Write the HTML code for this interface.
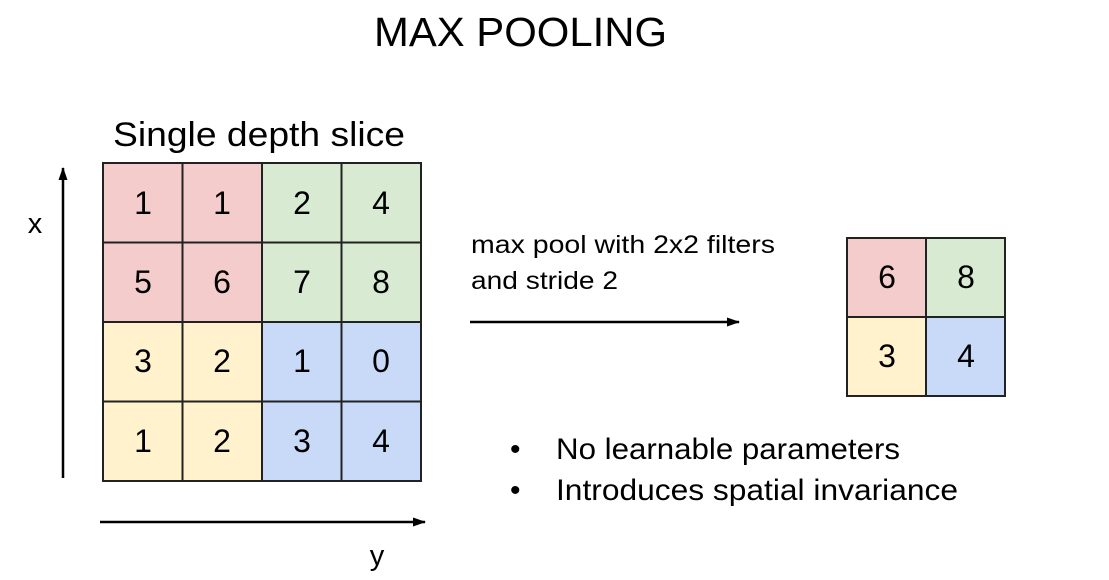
<!DOCTYPE html>
<html><head><meta charset="utf-8"><style>
html,body{margin:0;padding:0;background:#fff;width:1109px;height:580px;overflow:hidden}
svg text{font-family:"Liberation Sans","DejaVu Sans",sans-serif;fill:#000}
</style></head><body>
<svg width="1109" height="580" xmlns="http://www.w3.org/2000/svg">
<defs><marker id="a" markerWidth="14" markerHeight="12" refX="12" refY="6" orient="auto" markerUnits="userSpaceOnUse"><path d="M0,1.5 L13,6 L0,10.5 Z" fill="#000"/></marker></defs>
<text x="374" y="46" font-size="41" textLength="293" lengthAdjust="spacingAndGlyphs">MAX POOLING</text>
<text x="113" y="146" font-size="34" textLength="292" lengthAdjust="spacingAndGlyphs">Single depth slice</text>
<text x="35" y="233" font-size="29" text-anchor="middle">x</text>
<text x="377" y="565" font-size="29" text-anchor="middle">y</text>
<line x1="63" y1="478" x2="63" y2="168" stroke="#000" stroke-width="2.5" marker-end="url(#a)"/>
<line x1="100" y1="522" x2="425" y2="522" stroke="#000" stroke-width="2.5" marker-end="url(#a)"/>
<line x1="470" y1="322" x2="739" y2="322" stroke="#000" stroke-width="2.5" marker-end="url(#a)"/>
<g stroke="#222" stroke-width="2">
<rect x="103" y="163" width="159" height="159" fill="#f4cccc"/>
<rect x="262" y="163" width="159" height="159" fill="#d9ead3"/>
<rect x="103" y="322" width="159" height="159" fill="#fff2cc"/>
<rect x="262" y="322" width="159" height="159" fill="#c9daf8"/>
<line x1="182.5" y1="163" x2="182.5" y2="481"/><line x1="341.5" y1="163" x2="341.5" y2="481"/>
<line x1="103" y1="242.5" x2="421" y2="242.5"/><line x1="103" y1="401.5" x2="421" y2="401.5"/>
<rect x="847" y="238" width="79" height="79" fill="#f4cccc"/>
<rect x="926" y="238" width="79" height="79" fill="#d9ead3"/>
<rect x="847" y="317" width="79" height="79" fill="#fff2cc"/>
<rect x="926" y="317" width="79" height="79" fill="#c9daf8"/>
</g>
<g font-size="32" text-anchor="middle">
<text x="143" y="214">1</text><text x="222" y="214">1</text><text x="302" y="214">2</text><text x="381" y="214">4</text>
<text x="143" y="293">5</text><text x="222" y="293">6</text><text x="302" y="293">7</text><text x="381" y="293">8</text>
<text x="143" y="372">3</text><text x="222" y="372">2</text><text x="302" y="372">1</text><text x="381" y="372">0</text>
<text x="143" y="452">1</text><text x="222" y="452">2</text><text x="302" y="452">3</text><text x="381" y="452">4</text>
<text x="887" y="288">6</text><text x="966" y="288">8</text>
<text x="887" y="367">3</text><text x="966" y="367">4</text>
</g>
<text x="471" y="253" font-size="25" textLength="304" lengthAdjust="spacingAndGlyphs">max pool with 2x2 filters</text>
<text x="471" y="289" font-size="25" textLength="147" lengthAdjust="spacingAndGlyphs">and stride 2</text>
<g font-size="30"><text x="510" y="459">•</text><text x="556" y="459" textLength="344" lengthAdjust="spacingAndGlyphs">No learnable parameters</text>
<text x="510" y="500">•</text><text x="556" y="500" textLength="402" lengthAdjust="spacingAndGlyphs">Introduces spatial invariance</text></g>
</svg>
</body></html>
